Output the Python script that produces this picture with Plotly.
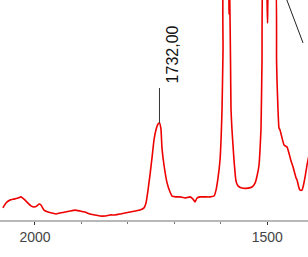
import plotly.graph_objects as go

# IR spectrum (red), wavenumber in cm-1, intensity in arbitrary units (0-100 visible)
wavenumber = [2069, 2062.4, 2053.8, 2045.2, 2036.6, 2030.1, 2023.7, 2015.1, 2008.6, 2002.2,
              1995.7, 1991.4, 1987.1, 1980.6, 1972.0, 1963.4, 1954.8, 1946.2, 1935.4, 1924.6,
              1913.9, 1903.1, 1892.4, 1881.6, 1870.8, 1860.1, 1849.3, 1838.5, 1827.8, 1817.0,
              1806.2, 1795.5, 1784.7, 1773.9, 1765.3, 1761.0, 1756.7, 1752.4, 1748.1, 1743.8,
              1739.5, 1735.0, 1732.0, 1728.9, 1726.6, 1722.3, 1715.8, 1709.3, 1705.0, 1696.4, 1687.8,
              1677.0, 1666.3, 1659.8, 1655.5, 1651.2, 1644.8, 1634.0, 1623.2, 1614.6, 1610.3,
              1606.0, 1601.7, 1599.5, 1597.4, 1595.2, 1593.9, 1584.5, 1582.3, 1581.0, 1579.1,
              1578.0, 1575.9, 1571.6, 1567.3, 1563.0, 1554.3, 1541.4, 1532.8, 1526.3, 1522.0,
              1517.7, 1515.6, 1513.4, 1511.3, 1509.1, 1502.7, 1499.4, 1496.2, 1483.3, 1480.0,
              1479.0, 1474.7, 1472.5, 1463.9, 1457.4, 1448.8, 1444.5, 1438.0, 1435.9, 1431.6,
              1429.5, 1425.2, 1423.0, 1418.7, 1414.4, 1408.0]
intensity = [5.5, 7.7, 9.1, 9.5, 10.0, 10.5, 9.5, 7.7, 6.4, 5.9,
             6.4, 7.3, 6.8, 4.5, 3.6, 3.2, 2.7, 3.2, 3.6, 4.1,
             4.5, 4.1, 3.6, 2.7, 2.3, 1.8, 1.8, 2.3, 2.3, 2.7,
             3.2, 3.6, 4.1, 4.5, 5.5, 7.7, 13.6, 20.5, 28.2, 36.4,
             41.0, 43.6, 44.1, 41.5, 32.7, 25.0, 17.0, 12.7, 10.9, 10.5, 10.5,
             10.0, 10.5, 9.5, 8.2, 10.0, 10.5, 10.5, 10.5, 10.9, 13.6,
             19.1, 27.3, 36.4, 50.0, 77.3, 110, 112, 93.6, 105, 72.7,
             50.0, 40.9, 27.3, 17.7, 15.5, 14.5, 14.5, 15.0, 16.8, 20.0,
             25.0, 31.8, 41.8, 72.7, 110, 112, 89.5, 110, 112, 72.7,
             63.6, 41.8, 40.9, 34.1, 33.2, 26.8, 24.1, 19.1, 18.2, 14.5,
             13.6, 13.6, 15.0, 19.5, 25.0, 31.8]

# second spectrum (black), only a piece visible in the top right
wavenumber_b = [1459.6, 1441.0, 1423.0]
intensity_b = [101.0, 90.5, 80.5]

# labelled peak
peak_wn = 1732.0
peak_val = 44.1
peak_label = "1732,00"
label_top = 60.0

tick_vals = [2000, 1500]
tick_text = ["2000", "1500"]

fig = go.Figure()
fig.add_trace(go.Scatter(x=wavenumber, y=intensity, mode="lines",
                         line=dict(color="#ee0000", width=1.6, shape="spline", smoothing=0.4),
                         showlegend=False, hoverinfo="skip"))
fig.add_trace(go.Scatter(x=wavenumber_b, y=intensity_b, mode="lines",
                         line=dict(color="#222222", width=1), showlegend=False,
                         hoverinfo="skip"))
fig.add_trace(go.Scatter(x=[peak_wn, peak_wn], y=[peak_val, label_top], mode="lines",
                         line=dict(color="#333333", width=1), showlegend=False,
                         hoverinfo="skip"))
fig.add_annotation(x=peak_wn, y=75.5, text=peak_label, showarrow=False,
                   textangle=-90, xshift=13, xanchor="center", yanchor="middle",
                   font=dict(family="Arial, Liberation Sans", size=16, color="#111111"))

fig.update_layout(
    width=308, height=257,
    margin=dict(l=0, r=0, t=0, b=37, autoexpand=False),
    paper_bgcolor="white", plot_bgcolor="white",
    hovermode=False,
    xaxis=dict(range=[2075.3, 1412.3], showgrid=False, zeroline=False, automargin=False,
               showline=True, linecolor="#b8b8b8", linewidth=2,
               tickvals=tick_vals, ticktext=tick_text, ticks="outside",
               ticklen=3, tickcolor="#333333", tickwidth=1,
               tickfont=dict(family="Arial, Liberation Sans", size=14, color="#444444"),
               minor=dict(dtick=100, ticks="outside", ticklen=2, tickcolor="#777777")),
    yaxis=dict(range=[0, 100], visible=False),
)

fig.write_html("out.html", config={"displayModeBar": False, "staticPlot": True},
               post_script="document.body.style.margin='0';document.body.style.overflow='hidden';")
